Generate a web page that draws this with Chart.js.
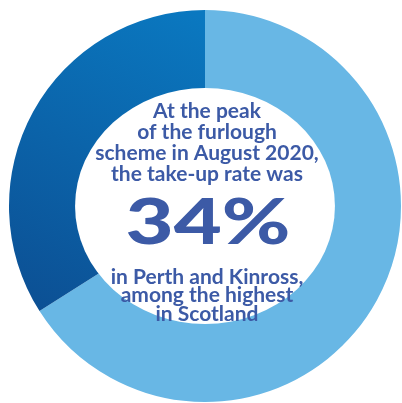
<!DOCTYPE html>
<html>
<head>
<meta charset="utf-8">
<script src="https://cdn.jsdelivr.net/npm/chart.js@4"></script>
<style>
  html, body { margin: 0; padding: 0; background: #fff; }
  #wrap { width: 402px; height: 403px; position: relative; }
</style>
</head>
<body>
<div id="wrap"><canvas id="furlough-chart"></canvas></div>
<script>
/* ===== DATA ===== */
const segments = ["Not furloughed", "Furloughed"];
const shares = [66, 34];
const headLines = ["At the peak", "of the furlough", "scheme in August 2020,", "the take-up rate was"];
const bigValue = "34%";
const tailLines = ["in Perth and Kinross,", "among the highest", "in Scotland"];

const TEXT_BLUE = "#3c5aa6";
const LIGHT = "#68b7e5";

/* ===== HELPERS ===== */
function segmentColour(ctx) {
  if (ctx.dataIndex === 0) return LIGHT;
  const area = ctx.chart.chartArea;
  if (!area) return "#0a6cb4";
  const g = ctx.chart.ctx.createLinearGradient(area.left + 180, area.top, area.left + 20, area.bottom - 80);
  g.addColorStop(0, "#0a78c0");
  g.addColorStop(1, "#0c4e92");
  return g;
}

// white centre disc (slightly oval like the print) plus the caption
const centreText = {
  id: "centreText",
  afterDatasetsDraw(chart) {
    const arc = chart.getDatasetMeta(0).data[0];
    if (!arc) return;
    const { x, y, outerRadius } = arc;
    const c = chart.ctx;
    c.save();
    c.fillStyle = "#fff";
    c.beginPath();
    c.ellipse(x, y, outerRadius * 0.663, outerRadius * 0.602, 0, 0, Math.PI * 2);
    c.fill();

    c.fillStyle = TEXT_BLUE;
    c.textAlign = "center";
    c.textBaseline = "middle";
    c.font = "bold 21px Lato";
    headLines.forEach((t, i) => c.fillText(t, x + 2, y - 95 + i * 21));

    // big figure, stretched a little to the wide print face
    c.font = "900 62px Lato";
    const w = c.measureText(bigValue).width;
    c.save();
    c.translate(x + 3, y + 18);
    c.scale(165 / w, 1);
    c.fillText(bigValue, 0, 0);
    c.restore();

    c.font = "bold 21px Lato";
    tailLines.forEach((t, i) => c.fillText(t, x + 2, y + 71 + i * 18.5));
    c.restore();
  }
};

/* ===== CHART ===== */
new Chart(document.getElementById("furlough-chart"), {
  type: "doughnut",
  data: {
    labels: segments,
    datasets: [{
      data: shares,
      backgroundColor: segmentColour,
      borderWidth: 0
    }]
  },
  options: {
    responsive: true,
    maintainAspectRatio: false,
    animation: false,
    cutout: "58%",
    rotation: 0,
    layout: { padding: { left: 8, right: 0, top: 10, bottom: 1 } },
    plugins: {
      legend: { display: false },
      tooltip: { enabled: false }
    }
  },
  plugins: [centreText]
});
</script>
</body>
</html>
